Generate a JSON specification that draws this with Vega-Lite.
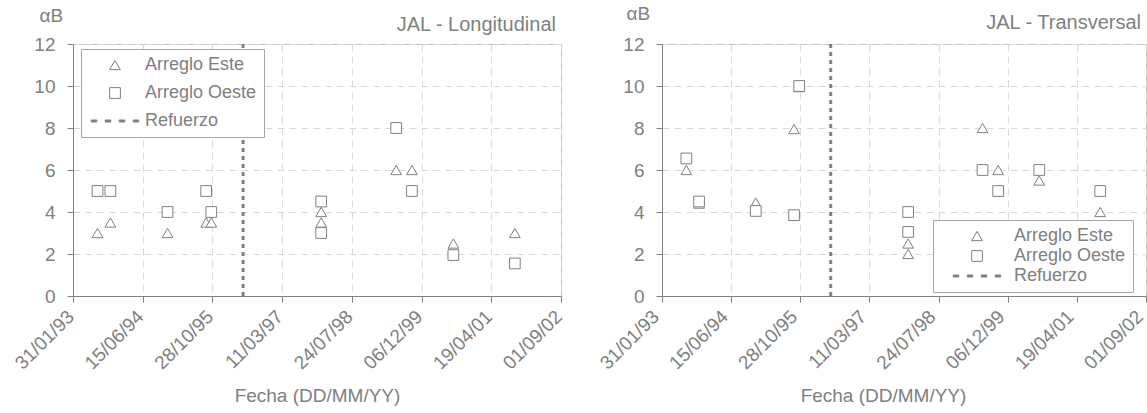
{
  "$schema": "https://vega.github.io/schema/vega-lite/v6.json",
  "autosize": {"type": "pad"},
  "padding": {"left": 11, "top": 3, "right": 0, "bottom": 0},
  "bounds": "flush",
  "spacing": 101,
  "config": {
    "font": "Liberation Sans",
    "view": {"stroke": "#bfbfbf", "strokeWidth": 1},
    "axis": {
      "labelColor": "#808080", "titleColor": "#808080", "domainColor": "#808080",
      "tickColor": "#808080", "gridColor": "#d9d9d9", "gridDash": [7, 5],
      "labelFont": "Liberation Sans", "titleFont": "Liberation Sans", "titleFontWeight": "normal",
      "tickSize": 6
    },
    "legend": {"labelFont": "Liberation Sans"},
    "title": {"font": "Liberation Sans", "fontWeight": "normal", "color": "#808080", "fontSize": 20, "anchor": "end", "frame": "group", "baseline": "alphabetic", "offset": 16, "dx": -5, "dy": 45}
  },
  "datasets": {
    "long": [
      {"fecha": "1993/07/26", "alpha": 3, "serie": "Arreglo Este"},
      {"fecha": "1993/10/26", "alpha": 3.5, "serie": "Arreglo Este"},
      {"fecha": "1994/12/10", "alpha": 3, "serie": "Arreglo Este"},
      {"fecha": "1995/09/13", "alpha": 3.5, "serie": "Arreglo Este"},
      {"fecha": "1995/10/20", "alpha": 3.5, "serie": "Arreglo Este"},
      {"fecha": "1997/12/16", "alpha": 4, "serie": "Arreglo Este"},
      {"fecha": "1997/12/16", "alpha": 3.5, "serie": "Arreglo Este"},
      {"fecha": "1999/06/07", "alpha": 6, "serie": "Arreglo Este"},
      {"fecha": "1999/09/28", "alpha": 6, "serie": "Arreglo Este"},
      {"fecha": "2000/07/21", "alpha": 2.5, "serie": "Arreglo Este"},
      {"fecha": "2001/10/05", "alpha": 3, "serie": "Arreglo Este"},
      {"fecha": "1993/07/26", "alpha": 5, "serie": "Arreglo Oeste"},
      {"fecha": "1993/10/26", "alpha": 5, "serie": "Arreglo Oeste"},
      {"fecha": "1994/12/10", "alpha": 4, "serie": "Arreglo Oeste"},
      {"fecha": "1995/09/13", "alpha": 5, "serie": "Arreglo Oeste"},
      {"fecha": "1995/10/20", "alpha": 4, "serie": "Arreglo Oeste"},
      {"fecha": "1997/12/16", "alpha": 4.5, "serie": "Arreglo Oeste"},
      {"fecha": "1997/12/16", "alpha": 3, "serie": "Arreglo Oeste"},
      {"fecha": "1999/06/07", "alpha": 8, "serie": "Arreglo Oeste"},
      {"fecha": "1999/09/28", "alpha": 5, "serie": "Arreglo Oeste"},
      {"fecha": "2000/07/21", "alpha": 1.95, "serie": "Arreglo Oeste"},
      {"fecha": "2001/10/05", "alpha": 1.55, "serie": "Arreglo Oeste"}
    ],
    "trans": [
      {"fecha": "1993/07/26", "alpha": 6, "serie": "Arreglo Este"},
      {"fecha": "1993/10/26", "alpha": 4.4, "serie": "Arreglo Este"},
      {"fecha": "1994/12/10", "alpha": 4.45, "serie": "Arreglo Este"},
      {"fecha": "1995/09/13", "alpha": 7.95, "serie": "Arreglo Este"},
      {"fecha": "1995/10/20", "alpha": 9.95, "serie": "Arreglo Este"},
      {"fecha": "1997/12/16", "alpha": 2.5, "serie": "Arreglo Este"},
      {"fecha": "1997/12/16", "alpha": 2, "serie": "Arreglo Este"},
      {"fecha": "1999/06/07", "alpha": 8, "serie": "Arreglo Este"},
      {"fecha": "1999/09/28", "alpha": 6, "serie": "Arreglo Este"},
      {"fecha": "2000/07/21", "alpha": 5.5, "serie": "Arreglo Este"},
      {"fecha": "2001/10/05", "alpha": 4, "serie": "Arreglo Este"},
      {"fecha": "1993/07/26", "alpha": 6.55, "serie": "Arreglo Oeste"},
      {"fecha": "1993/10/26", "alpha": 4.5, "serie": "Arreglo Oeste"},
      {"fecha": "1994/12/10", "alpha": 4.05, "serie": "Arreglo Oeste"},
      {"fecha": "1995/09/13", "alpha": 3.85, "serie": "Arreglo Oeste"},
      {"fecha": "1995/10/20", "alpha": 10, "serie": "Arreglo Oeste"},
      {"fecha": "1997/12/16", "alpha": 4, "serie": "Arreglo Oeste"},
      {"fecha": "1997/12/16", "alpha": 3.05, "serie": "Arreglo Oeste"},
      {"fecha": "1999/06/07", "alpha": 6, "serie": "Arreglo Oeste"},
      {"fecha": "1999/09/28", "alpha": 5, "serie": "Arreglo Oeste"},
      {"fecha": "2000/07/21", "alpha": 6, "serie": "Arreglo Oeste"},
      {"fecha": "2001/10/05", "alpha": 5, "serie": "Arreglo Oeste"}
    ],
    "refuerzo": [{"fecha": "1996/06/04"}]
  },
  "resolve": {"scale": {"shape": "independent", "fill": "independent", "stroke": "independent"}, "legend": {"shape": "independent", "fill": "independent", "stroke": "independent"}},
  "hconcat": [
    {
      "width": 488, "height": 252,
      "title": {"text": "JAL - Longitudinal"},
      "layer": [
        {
          "data": {"name": "refuerzo"},
          "mark": {"type": "rule", "color": "#808080", "strokeWidth": 3, "strokeDash": [4, 4]},
          "encoding": {"x": {"field": "fecha", "type": "temporal"}}
        },
        {
          "data": {"name": "long"},
          "mark": {"type": "point", "strokeWidth": 1, "opacity": 1, "size": 115},
          "encoding": {
            "x": {"field": "fecha", "type": "temporal",
              "scale": {"domain": [{"year": 1993, "month": 1, "date": 31}, {"year": 2002, "month": 9, "date": 1}], "nice": false},
              "axis": {
                "values": [{"year": 1993, "month": 1, "date": 31}, {"year": 1994, "month": 6, "date": 15}, {"year": 1995, "month": 10, "date": 28}, {"year": 1997, "month": 3, "date": 11}, {"year": 1998, "month": 7, "date": 24}, {"year": 1999, "month": 12, "date": 6}, {"year": 2001, "month": 4, "date": 19}, {"year": 2002, "month": 9, "date": 1}],
                "format": "%d/%m/%y", "labelAngle": -45, "labelFontSize": 19, "labelPadding": 5, "labelOffset": -9,
                "title": "Fecha (DD/MM/YY)", "titleFontSize": 19, "titlePadding": 14, "grid": true
              }},
            "y": {"field": "alpha", "type": "quantitative",
              "scale": {"domain": [0, 12], "nice": false},
              "axis": {
                "values": [0, 2, 4, 6, 8, 10, 12], "labelFontSize": 19, "labelPadding": 12, "grid": true,
                "title": "αB", "titleFontSize": 19, "titleAngle": 0, "titleAlign": "left", "titleBaseline": "alphabetic", "titleX": -34, "titleY": -23
              }},
            "shape": {"field": "serie", "type": "nominal",
              "scale": {"domain": ["Arreglo Este", "Arreglo Oeste", "Refuerzo"], "range": ["triangle-up", "square", "M-4.43,-0.19H-3.4V0.19H-4.43Z M-1.82,-0.19H-0.79V0.19H-1.82Z M0.79,-0.19H1.82V0.19H0.79Z M3.4,-0.19H4.43V0.19H3.4Z"]},
              "legend": {"title": null, "orient": "none", "legendX": 8, "legendY": 5, "direction": "vertical", "padding": 7,
                "strokeColor": "#a6a6a6", "fillColor": "white", "labelFontSize": 18, "labelColor": "#808080",
                "symbolSize": 115, "symbolStrokeWidth": 1, "symbolOffset": 18, "labelOffset": 21, "rowPadding": 10}},
            "fill": {"field": "serie", "type": "nominal",
              "scale": {"domain": ["Arreglo Este", "Arreglo Oeste", "Refuerzo"], "range": ["white", "white", "#808080"]}},
            "stroke": {"field": "serie", "type": "nominal",
              "scale": {"domain": ["Arreglo Este", "Arreglo Oeste", "Refuerzo"], "range": ["#808080", "#808080", "#808080"]}}
          }
        }
      ]
    },
    {
      "width": 484, "height": 252,
      "title": {"text": "JAL - Transversal"},
      "layer": [
        {
          "data": {"name": "refuerzo"},
          "mark": {"type": "rule", "color": "#808080", "strokeWidth": 3, "strokeDash": [4, 4]},
          "encoding": {"x": {"field": "fecha", "type": "temporal"}}
        },
        {
          "data": {"name": "trans"},
          "mark": {"type": "point", "strokeWidth": 1, "opacity": 1, "size": 115},
          "encoding": {
            "x": {"field": "fecha", "type": "temporal",
              "scale": {"domain": [{"year": 1993, "month": 1, "date": 31}, {"year": 2002, "month": 9, "date": 1}], "nice": false},
              "axis": {
                "values": [{"year": 1993, "month": 1, "date": 31}, {"year": 1994, "month": 6, "date": 15}, {"year": 1995, "month": 10, "date": 28}, {"year": 1997, "month": 3, "date": 11}, {"year": 1998, "month": 7, "date": 24}, {"year": 1999, "month": 12, "date": 6}, {"year": 2001, "month": 4, "date": 19}, {"year": 2002, "month": 9, "date": 1}],
                "format": "%d/%m/%y", "labelAngle": -45, "labelFontSize": 19, "labelPadding": 5, "labelOffset": -13,
                "title": "Fecha (DD/MM/YY)", "titleFontSize": 19, "titlePadding": 14, "grid": true, "titleX": 221
              }},
            "y": {"field": "alpha", "type": "quantitative",
              "scale": {"domain": [0, 12], "nice": false},
              "axis": {
                "values": [0, 2, 4, 6, 8, 10, 12], "labelFontSize": 19, "labelPadding": 12, "grid": true,
                "title": "αB", "titleFontSize": 19, "titleAngle": 0, "titleAlign": "left", "titleBaseline": "alphabetic", "titleX": -36, "titleY": -25
              }},
            "shape": {"field": "serie", "type": "nominal",
              "scale": {"domain": ["Arreglo Este", "Arreglo Oeste", "Refuerzo"], "range": ["triangle-up", "square", "M-4.43,-0.19H-3.4V0.19H-4.43Z M-1.82,-0.19H-0.79V0.19H-1.82Z M0.79,-0.19H1.82V0.19H0.79Z M3.4,-0.19H4.43V0.19H3.4Z"]},
              "legend": {"title": null, "orient": "none", "legendX": 271, "legendY": 176, "direction": "vertical", "padding": 7,
                "strokeColor": "#a6a6a6", "fillColor": "white", "labelFontSize": 18, "labelColor": "#808080",
                "symbolSize": 115, "symbolStrokeWidth": 1, "symbolOffset": 28, "labelOffset": 28, "rowPadding": 2}},
            "fill": {"field": "serie", "type": "nominal",
              "scale": {"domain": ["Arreglo Este", "Arreglo Oeste", "Refuerzo"], "range": ["white", "white", "#808080"]}},
            "stroke": {"field": "serie", "type": "nominal",
              "scale": {"domain": ["Arreglo Este", "Arreglo Oeste", "Refuerzo"], "range": ["#808080", "#808080", "#808080"]}}
          }
        }
      ]
    }
  ]
}
